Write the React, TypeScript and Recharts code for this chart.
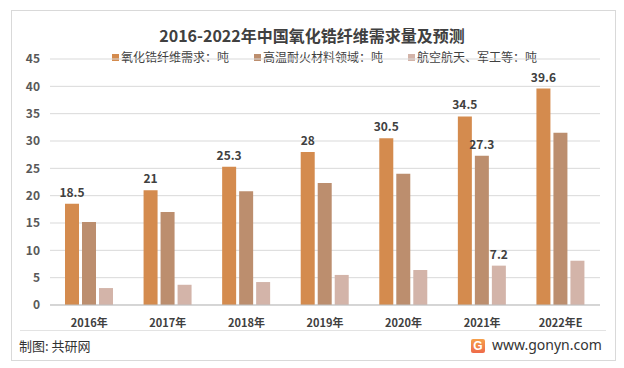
import React from 'react';
import { BarChart, Bar, XAxis, YAxis, CartesianGrid, LabelList } from 'recharts';

const categories = ['2016年', '2017年', '2018年', '2019年', '2020年', '2021年', '2022年E'];
const totalDemand = [18.5, 21, 25.3, 28, 30.5, 34.5, 39.6];
const refractory = [15.2, 17.0, 20.8, 22.3, 24.0, 27.3, 31.5];
const aerospace = [3.1, 3.7, 4.2, 5.5, 6.4, 7.2, 8.1];
const refractoryLabels = [null, null, null, null, null, 27.3, null];
const aerospaceLabels = [null, null, null, null, null, 7.2, null];
const yTicks = [0, 5, 10, 15, 20, 25, 30, 35, 40, 45];
const seriesNames = ['氧化锆纤维需求：吨', '高温耐火材料领域：吨', '航空航天、军工等：吨'];
const colors = ['#D48B4E', '#BC8E6E', '#D3B4A9'];

const data = categories.map((c, i) => ({
  name: c,
  total: totalDemand[i],
  refractory: refractory[i],
  aerospace: aerospace[i],
  refractoryLabel: refractoryLabels[i],
  aerospaceLabel: aerospaceLabels[i],
}));

const FONT = '"Noto Sans CJK SC", "Noto Sans", sans-serif';

const renderLabel = (props: any) => {
  const { x, y, width, value } = props;
  if (value === null || value === undefined) return null;
  return (
    <text
      x={x + width / 2}
      y={y - 7}
      textAnchor="middle"
      fontFamily={FONT}
      fontSize={12}
      fontWeight="bold"
      fill="#404040"
    >
      {value}
    </text>
  );
};

export default function App() {
  return (
    <div
      style={{
        position: 'absolute',
        left: 0,
        top: 0,
        width: 624,
        height: 368,
        background: '#fff',
        fontFamily: FONT,
        overflow: 'hidden',
      }}
    >
      <div
        style={{
          position: 'absolute',
          left: 11,
          top: 10,
          width: 605,
          height: 351,
          border: '1px solid #d9d9d9',
          boxSizing: 'border-box',
        }}
      />
      <div
        style={{
          position: 'absolute',
          left: 0,
          top: 24,
          width: 624,
          textAlign: 'center',
          fontSize: 16,
          fontWeight: 'bold',
          color: '#404040',
          lineHeight: '22px',
        }}
      >
        2016-2022年中国氧化锆纤维需求量及预测
      </div>
      <div
        style={{
          position: 'absolute',
          left: 112,
          top: 49,
          display: 'flex',
          fontSize: 12,
          color: '#404040',
          lineHeight: '16px',
        }}
      >
        {seriesNames.map((n, i) => (
          <div key={n} style={{ display: 'flex', alignItems: 'center', marginRight: 25 }}>
            <span style={{ width: 7, height: 7, background: colors[i], marginRight: 2, display: 'inline-block' }} />
            <span>{n}</span>
          </div>
        ))}
      </div>
      <div style={{ position: 'absolute', left: 0, top: 0 }}>
        <BarChart
          width={624}
          height={368}
          data={data}
          margin={{ top: 59, right: 24, bottom: 33, left: 10 }}
          barGap={3}
          barSize={14}
        >
          <CartesianGrid vertical={false} stroke="#d9d9d9" />
          <XAxis
            dataKey="name"
            axisLine={{ stroke: '#bfbfbf' }}
            tickLine={false}
            height={30}
            tick={{ fontSize: 11, fontWeight: 'bold', fill: '#404040', fontFamily: FONT }}
            tickMargin={8}
          />
          <YAxis
            domain={[0, 45]}
            ticks={yTicks}
            width={40}
            axisLine={false}
            tickLine={false}
            interval={0}
            tick={{ fontSize: 12, fontWeight: 'bold', fill: '#595959', fontFamily: FONT, dx: -2 }}
          />
          <Bar dataKey="total" fill={colors[0]} isAnimationActive={false}>
            <LabelList dataKey="total" content={renderLabel} />
          </Bar>
          <Bar dataKey="refractory" fill={colors[1]} isAnimationActive={false}>
            <LabelList dataKey="refractoryLabel" content={renderLabel} />
          </Bar>
          <Bar dataKey="aerospace" fill={colors[2]} isAnimationActive={false}>
            <LabelList dataKey="aerospaceLabel" content={renderLabel} />
          </Bar>
        </BarChart>
      </div>
      <div
        style={{
          position: 'absolute',
          left: 20,
          top: 330,
          width: 586,
          height: 1,
          background: '#e3e3e3',
        }}
      />
      <div
        style={{
          position: 'absolute',
          left: 19,
          top: 336,
          fontSize: 13,
          color: '#333',
          lineHeight: '20px',
        }}
      >
        制图: 共研网
      </div>
      <div
        style={{
          position: 'absolute',
          left: 471,
          top: 339,
          width: 14,
          height: 14,
          borderRadius: 2,
          background: 'linear-gradient(180deg, #F6A04A 0%, #EE6A4A 100%)',
          color: '#fff',
          fontSize: 12,
          fontWeight: 'bold',
          lineHeight: '14px',
          textAlign: 'center',
          fontFamily: 'Arial, sans-serif',
        }}
      >
        G
      </div>
      <div
        style={{
          position: 'absolute',
          left: 492,
          top: 335,
          fontSize: 14,
          color: '#333',
          lineHeight: '20px',
          fontFamily: '"Noto Sans", "DejaVu Sans", sans-serif',
        }}
      >
        www.gonyn.com
      </div>
    </div>
  );
}
